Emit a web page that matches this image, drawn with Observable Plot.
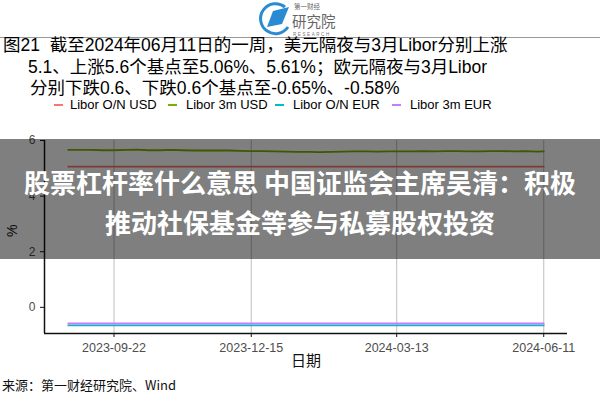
<!DOCTYPE html>
<html>
<head>
<meta charset="utf-8">
<script src="https://cdn.jsdelivr.net/npm/d3@7"></script>
<script src="https://cdn.jsdelivr.net/npm/@observablehq/plot@0.6"></script>
<style>
  html, body { margin: 0; padding: 0; background: #fff; }
  #page { position: relative; width: 600px; height: 400px; overflow: hidden; background: #fff;
          font-family: "Liberation Sans", "Noto Sans CJK SC", sans-serif; }
  .abs { position: absolute; }
  #title { left: 3px; top: 35px; font-size: 17.5px; line-height: 21.5px; color: #000; white-space: nowrap;
           font-family: "Liberation Sans", "Noto Sans CJK SC", sans-serif; }
  .leg { position: absolute; top: 98px; font-size: 13px; line-height: 14px; color: #000; white-space: nowrap; }
  .key { position: absolute; top: 104px; width: 9px; height: 2px; }
  #banner { left: 0; top: 139px; width: 600px; height: 120px; background: rgba(0,0,0,0.5);
            color: #fff; font-family: "Noto Sans CJK SC", sans-serif; font-weight: bold; font-size: 26px;
            line-height: 40px; text-align: center; padding-top: 23px; box-sizing: border-box; white-space: nowrap; }
  #caption { left: 2px; top: 377px; font-size: 13px; line-height: 16px; color: #111;
             font-family: "Noto Sans CJK SC", "Liberation Sans", sans-serif; white-space: nowrap; }
</style>
</head>
<body>
<div id="page">
  <svg class="abs" style="left:255px;top:1px" width="96" height="37" viewBox="0 0 96 37">
    <path d="M30 6 A15 15 0 1 0 33 26" fill="none" stroke="#2a8bd2" stroke-width="3"/>
    <path d="M12 26 L18 10 L34 6 L27 23 Z" fill="#2a8bd2"/>
    <text x="39" y="8" font-size="6.5" fill="#666" font-family="Noto Sans CJK SC">第一财经</text>
    <text x="37" y="26" font-size="14.5" fill="#666" font-family="Noto Sans CJK SC">研究院</text>
    <text x="38" y="35" font-size="4.5" fill="#777" letter-spacing="1.6" font-family="Liberation Sans">RESEARCH</text>
  </svg>
  <div class="abs" style="left:0;top:37px;width:600px;height:1px;background:#999"></div>
  <div id="title" class="abs">
    <div>图21&nbsp;&nbsp;截至2024年06月11日的一周，美元隔夜与3月Libor分别上涨</div>
    <div style="padding-left:25px">5.1、上涨5.6个基点至5.06%、5.61%；欧元隔夜与3月Libor</div>
    <div style="padding-left:27px">分别下跌0.6、下跌0.6个基点至-0.65%、-0.58%</div>
  </div>
  <div id="legend"></div>
  <div id="chart" class="abs" style="left:0;top:118px"></div>
  <div id="banner" class="abs">
    <div>股票杠杆率什么意思 中国证监会主席吴清：积极</div>
    <div>推动社保基金等参与私募股权投资</div>
  </div>
  <div id="caption" class="abs">来源：第一财经研究院、Wind</div>
</div>
<script>
// ---- data ----
const dates = [
  "2023-08-25","2023-09-01","2023-09-08","2023-09-15","2023-09-22","2023-09-29",
  "2023-10-06","2023-10-13","2023-10-20","2023-10-27",
  "2023-11-03","2023-11-10","2023-11-17","2023-11-24",
  "2023-12-01","2023-12-08","2023-12-15","2023-12-22","2023-12-29",
  "2024-01-05","2024-01-12","2024-01-19","2024-01-26",
  "2024-02-02","2024-02-09","2024-02-16","2024-02-23",
  "2024-03-01","2024-03-08","2024-03-15","2024-03-22","2024-03-29",
  "2024-04-05","2024-04-12","2024-04-19","2024-04-26",
  "2024-05-03","2024-05-10","2024-05-17","2024-05-24","2024-05-31",
  "2024-06-07","2024-06-11"
];
const liborONUSD = [
  5.06,5.06,5.06,5.06,5.06,5.06,5.06,5.06,5.06,5.06,5.06,5.06,5.06,5.06,5.06,
  5.06,5.06,5.06,5.06,5.06,5.06,5.06,5.06,5.06,5.06,5.06,5.06,5.06,5.06,5.06,
  5.06,5.06,5.06,5.06,5.06,5.06,5.06,5.06,5.06,5.06,5.06,5.06,5.06
];
const libor3mUSD = [
  5.66,5.66,5.66,5.65,5.65,5.66,5.67,5.65,5.65,5.66,
  5.65,5.64,5.64,5.64,5.64,5.63,5.62,5.62,5.61,5.60,
  5.59,5.59,5.58,5.59,5.60,5.61,5.61,5.60,5.61,5.61,
  5.61,5.62,5.61,5.62,5.62,5.61,5.61,5.62,5.62,5.61,
  5.62,5.60,5.61
];
const liborONEUR = [
  -0.65,-0.65,-0.65,-0.65,-0.65,-0.65,-0.65,-0.65,-0.65,-0.65,-0.65,-0.65,-0.65,-0.65,-0.65,
  -0.65,-0.65,-0.65,-0.65,-0.65,-0.65,-0.65,-0.65,-0.65,-0.65,-0.65,-0.65,-0.65,-0.65,-0.65,
  -0.65,-0.65,-0.65,-0.65,-0.65,-0.65,-0.65,-0.65,-0.65,-0.65,-0.65,-0.65,-0.65
];
const libor3mEUR = [
  -0.58,-0.58,-0.58,-0.58,-0.58,-0.58,-0.58,-0.58,-0.58,-0.58,-0.58,-0.58,-0.58,-0.58,-0.58,
  -0.58,-0.58,-0.58,-0.58,-0.58,-0.58,-0.58,-0.58,-0.58,-0.58,-0.58,-0.58,-0.58,-0.58,-0.58,
  -0.58,-0.58,-0.58,-0.58,-0.58,-0.58,-0.58,-0.58,-0.58,-0.58,-0.58,-0.58,-0.58
];
const seriesNames = ["Libor O/N USD","Libor 3m USD","Libor O/N EUR","Libor 3m EUR"];
const seriesColors = ["#F8766D","#7CAE00","#00BFC4","#C77CFF"];
const xTickLabels = ["2023-09-22","2023-12-15","2024-03-13","2024-06-11"];
const yTicks = [0, 2, 4, 6];
const yDomain = [-0.94, 6.0];

// ---- build table ----
const parse = d3.utcParse("%Y-%m-%d");
const seriesValues = [liborONUSD, libor3mUSD, liborONEUR, libor3mEUR];
const rows = [];
seriesNames.forEach((name, i) => {
  dates.forEach((d, j) => rows.push({series: name, date: parse(d), value: seriesValues[i][j]}));
});
const xTicks = xTickLabels.map(parse);
const x0 = parse(dates[0]), x1 = parse(dates[dates.length - 1]);
const pad = (x1 - x0) * 0.05;
const xDomain = [new Date(+x0 - pad), new Date(+x1 + pad)];

// ---- legend ----
const legend = document.getElementById("legend");
const keyX = [54, 168, 275, 392];
const textX = [70, 186, 293, 410];
seriesNames.forEach((name, i) => {
  const k = document.createElement("div");
  k.className = "key"; k.style.left = keyX[i] + "px"; k.style.background = seriesColors[i];
  legend.appendChild(k);
  const t = document.createElement("div");
  t.className = "leg"; t.style.left = textX[i] + "px"; t.textContent = name;
  legend.appendChild(t);
});

// ---- chart ----
const chart = Plot.plot({
  width: 600,
  height: 255,
  marginTop: 22,
  marginBottom: 40,
  marginLeft: 44,
  marginRight: 33,
  style: {fontFamily: "'Liberation Sans', 'Noto Sans CJK SC', sans-serif", background: "transparent"},
  x: {type: "utc", domain: xDomain},
  y: {domain: yDomain},
  color: {domain: seriesNames, range: seriesColors},
  marks: [
    Plot.ruleX(xTicks, {stroke: "#c4c4c4", strokeWidth: 1.1}),
    Plot.line(rows, {x: "date", y: "value", stroke: "series", z: "series", strokeWidth: 1.8}),
    Plot.ruleX([xDomain[0]], {stroke: "#111", strokeWidth: 1.5}),
    Plot.ruleY([yDomain[0]], {stroke: "#111", strokeWidth: 1.5}),
    Plot.axisY({ticks: yTicks, tickSize: 4, tickPadding: 5, fontSize: 12, stroke: "#111", fill: "#4d4d4d", label: null, tickFormat: d3.format("d")}),
    Plot.axisX({ticks: xTicks, tickSize: 4, tickPadding: 6, fontSize: 12.5, stroke: "#111", fill: "#4d4d4d", label: null, tickFormat: d3.utcFormat("%Y-%m-%d")}),
    Plot.text(["%"], {frameAnchor: "left", dx: -32, rotate: -90, fontSize: 14, fill: "#111", text: d => d}),
    Plot.text(["日期"], {frameAnchor: "bottom", dy: 32, fontSize: 15, fill: "#111", text: d => d, fontFamily: "'Noto Sans CJK SC'"})
  ]
});
document.getElementById("chart").appendChild(chart);
</script>
</body>
</html>
